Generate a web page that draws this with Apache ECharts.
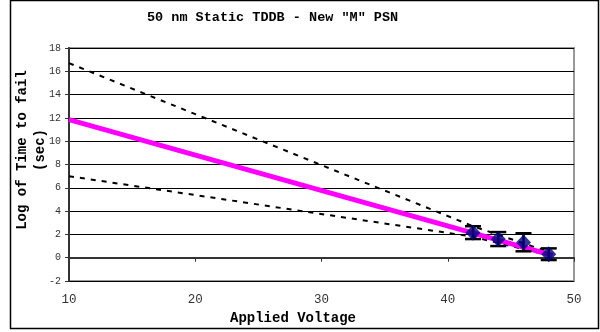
<!DOCTYPE html>
<html>
<head>
<meta charset="utf-8">
<script src="https://cdn.jsdelivr.net/npm/echarts@6/dist/echarts.min.js"></script>
<style>
  html, body { margin: 0; padding: 0; background: #fff; }
  #main { width: 600px; height: 332px; }
</style>
</head>
<body>
<div id="main"></div>
<script>
// measured points
const voltage = [42, 44, 46, 48];
const logTTF = [2.15, 1.6, 1.3, 0.3];
const errLow = [1.6, 1.0, 0.55, -0.2];
const errHigh = [2.7, 2.2, 2.1, 0.8];
// fit and bounds
const fitX = [10, 48.3];
const fitY = [11.85, 0.2];
const upperX = [10, 42, 48];
const upperY = [16.7, 2.7, 0.5];
const lowerX = [10, 42, 48];
const lowerY = [7.0, 1.8, 0.2];

const pairs = (xs, ys) => xs.map((x, i) => [x, ys[i]]);
const mono = '"Liberation Mono", "DejaVu Sans Mono", monospace';

const chart = echarts.init(document.getElementById('main'));
const option = {
  animation: false,
  backgroundColor: '#fff',
  title: {
    text: '50 nm Static TDDB - New "M" PSN',
    left: 142,
    top: 6,
    textStyle: { fontFamily: mono, fontWeight: 'bold', fontSize: 13.5, color: '#000' }
  },
  graphic: [
    {
      type: 'rect',
      shape: { x: 10.5, y: 0.5, width: 588, height: 328 },
      style: { fill: 'none', stroke: '#000', lineWidth: 1.5 },
      z: 100
    },
    {
      type: 'text',
      x: 31, y: 150,
      rotation: Math.PI / 2,
      style: {
        text: 'Log of Time to fail\n(sec)',
        font: 'bold 14px ' + mono,
        fill: '#000',
        align: 'center',
        verticalAlign: 'middle',
        lineHeight: 18
      }
    },
    {
      type: 'text',
      x: 293, y: 318,
      style: {
        text: 'Applied Voltage',
        font: 'bold 14px ' + mono,
        fill: '#000',
        align: 'center',
        verticalAlign: 'middle'
      }
    }
  ],
  grid: {
    left: 69, right: 26, top: 48, bottom: 51,
    containLabel: false,
    outerBoundsMode: 'none',
    show: true, borderColor: '#999', borderWidth: 2
  },
  xAxis: {
    type: 'value',
    min: 10, max: 50, interval: 10,
    axisLine: { lineStyle: { color: '#333', width: 2 } },
    axisTick: { show: true, length: 4, lineStyle: { color: '#333' } },
    axisLabel: { fontFamily: mono, fontSize: 12.5, color: '#333', margin: 12 },
    splitLine: { show: false }
  },
  yAxis: {
    type: 'value',
    min: -2, max: 18, interval: 2,
    axisLine: { show: true, onZero: false, lineStyle: { color: '#333', width: 2 } },
    axisTick: { show: true, length: 4, lineStyle: { color: '#333' } },
    axisLabel: { fontFamily: mono, fontSize: 10, color: '#333', margin: 8 },
    splitLine: { show: true, lineStyle: { color: '#000', width: 1 } }
  },
  series: [
    {
      type: 'line',
      data: pairs(upperX, upperY),
      showSymbol: false,
      lineStyle: { color: '#000', width: 2, type: [5, 6] },
      z: 3
    },
    {
      type: 'line',
      data: pairs(lowerX, lowerY),
      showSymbol: false,
      lineStyle: { color: '#000', width: 2, type: [5, 6] },
      z: 3
    },
    {
      type: 'line',
      data: pairs(fitX, fitY),
      showSymbol: false,
      lineStyle: { color: '#ff00ff', width: 5 },
      z: 4
    },
    {
      type: 'custom',
      data: voltage.map((v, i) => [v, errLow[i], errHigh[i]]),
      renderItem: (params, api) => {
        const lo = api.coord([api.value(0), api.value(1)]);
        const hi = api.coord([api.value(0), api.value(2)]);
        const w = 8;
        const st = { stroke: '#000', lineWidth: 2.5 };
        return {
          type: 'group',
          children: [
            { type: 'line', shape: { x1: lo[0], y1: lo[1], x2: hi[0], y2: hi[1] }, style: st },
            { type: 'line', shape: { x1: lo[0] - w, y1: lo[1], x2: lo[0] + w, y2: lo[1] }, style: st },
            { type: 'line', shape: { x1: hi[0] - w, y1: hi[1], x2: hi[0] + w, y2: hi[1] }, style: st }
          ]
        };
      },
      z: 5
    },
    {
      type: 'scatter',
      data: pairs(voltage, logTTF),
      symbol: 'diamond',
      symbolSize: [15, 16],
      itemStyle: { color: '#000080' },
      z: 6
    }
  ]
};
chart.setOption(option);
</script>
</body>
</html>
